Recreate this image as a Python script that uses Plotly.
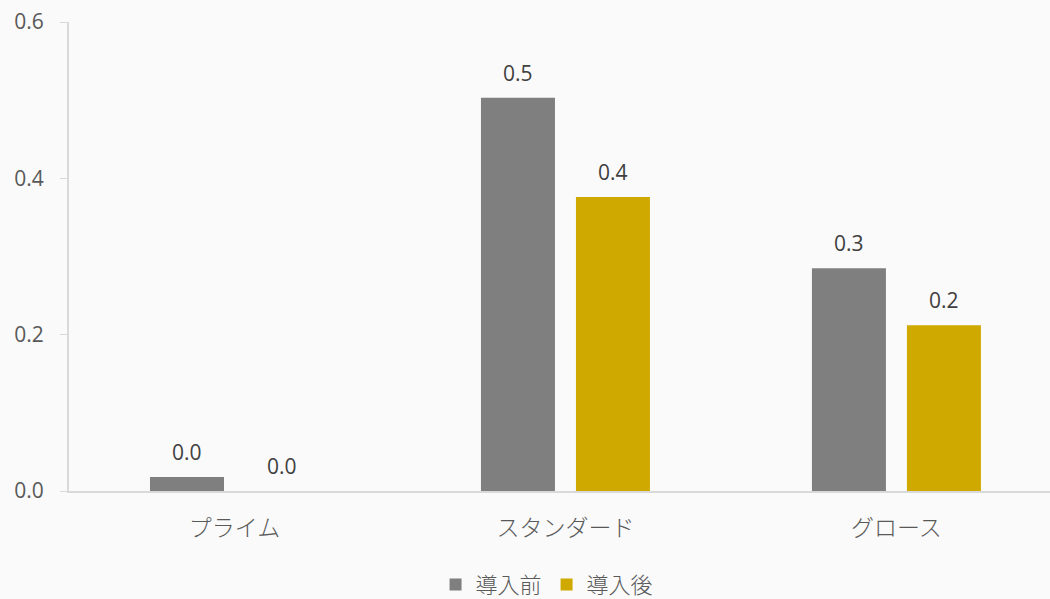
import plotly.graph_objects as go

# Market segments and values before/after introduction
categories = ["プライム", "スタンダード", "グロース"]
before_vals = [0.018, 0.503, 0.285]
after_vals = [0.0, 0.376, 0.212]
series_names = ["導入前", "導入後"]
y_ticks = [0.0, 0.2, 0.4, 0.6]

GRAY = "#7F7F7F"
GOLD = "#CFA800"
BG = "#FAFAFA"
AXIS = "#D9D9D9"
FONT = "Open Sans, Noto Sans CJK JP, sans-serif"
CJK = "Noto Sans CJK JP, sans-serif"

BARGAP = 0.426
BARGROUPGAP = 0.221

fig = go.Figure()
for name, vals, color in [(series_names[0], before_vals, GRAY),
                          (series_names[1], after_vals, GOLD)]:
    fig.add_trace(go.Bar(
        name=name, x=categories, y=vals,
        marker=dict(color=color, line=dict(width=0)),
        hoverinfo="skip",
    ))

# Value labels above each bar, centred on the bar within its group
slot = (1 - BARGAP) / 4
for vals, dx in [(before_vals, -slot), (after_vals, slot)]:
    for i, v in enumerate(vals):
        fig.add_annotation(
            x=i + dx, y=v, xref="x", yref="y",
            text=f"{v:.1f}", showarrow=False,
            yanchor="bottom", yshift=9,
            font=dict(family=FONT, size=21, color="#404040"),
        )

fig.update_layout(
    width=1050, height=599,
    margin=dict(l=69, r=0, t=22, b=108, autoexpand=False),
    paper_bgcolor=BG, plot_bgcolor=BG,
    barmode="group", bargap=BARGAP, bargroupgap=BARGROUPGAP,
    font=dict(family=FONT, size=21, color="#595959"),
    showlegend=True,
    legend=dict(
        orientation="h", xref="container", yref="container",
        x=0.521, xanchor="center", y=0.024, yanchor="middle",
        font=dict(family=CJK, size=22, color="#595959", weight=300),
        bgcolor="rgba(0,0,0,0)", itemwidth=30, tracegroupgap=0,
    ),
    xaxis=dict(
        type="category", range=[-0.5, 2.464],
        showline=True, linecolor=AXIS, linewidth=2,
        showgrid=False, zeroline=False, ticks="",
        ticklabelstandoff=15,
        tickfont=dict(family=CJK, size=23, color="#595959", weight=300),
    ),
    yaxis=dict(
        range=[0, 0.6], tickvals=y_ticks, ticktext=[f"{t:.1f}" for t in y_ticks],
        showline=True, linecolor=AXIS, linewidth=2,
        ticks="outside", ticklen=7, tickcolor=AXIS, tickwidth=1,
        showgrid=False, zeroline=False,
        ticklabelstandoff=12,
        tickfont=dict(family=FONT, size=21, color="#595959"),
    ),
)

fig.write_html("out.html")
